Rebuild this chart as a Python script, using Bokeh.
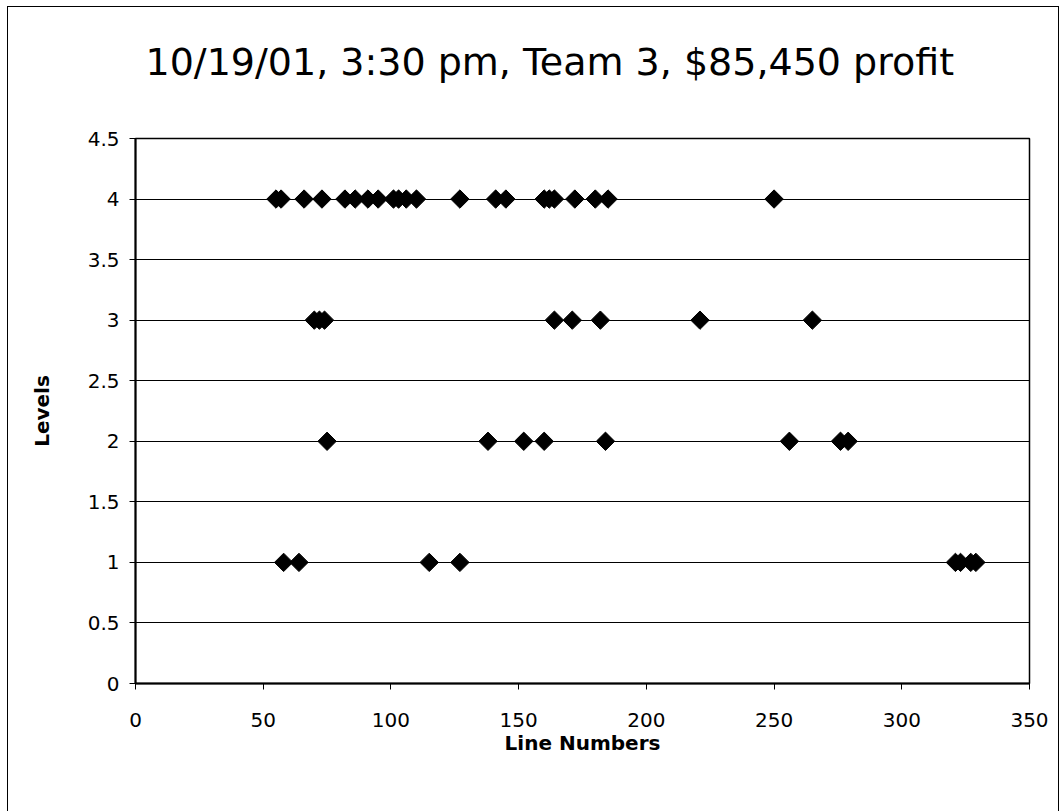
import numpy as np
from bokeh.plotting import figure
from bokeh.models import ColumnDataSource, FixedTicker, Range1d, Title
from bokeh.embed import file_html
from bokeh.resources import INLINE

title_text = "10/19/01, 3:30 pm, Team 3, $85,450 profit"
x_label = "Line Numbers"
y_label = "Levels"

level4_x = [55, 57, 66, 73, 82, 86, 91, 95, 101, 103, 106, 110, 127, 141, 145,
            160, 162, 164, 172, 180, 185, 250]
level3_x = [70, 72, 74, 164, 171, 182, 221, 265]
level2_x = [75, 138, 152, 160, 184, 256, 276, 279]
level1_x = [58, 64, 115, 127, 321, 323, 327, 329]

x_ticks = [0, 50, 100, 150, 200, 250, 300, 350]
y_ticks = [0, 0.5, 1, 1.5, 2, 2.5, 3, 3.5, 4, 4.5]
y_tick_labels = ["0", "0.5", "1", "1.5", "2", "2.5", "3", "3.5", "4", "4.5"]

xs = level4_x + level3_x + level2_x + level1_x
ys = ([4] * len(level4_x) + [3] * len(level3_x) +
      [2] * len(level2_x) + [1] * len(level1_x))
src = ColumnDataSource(dict(x=xs, y=ys))

FONT = "DejaVu Sans"

p = figure(width=1052, height=805, output_backend="svg", toolbar_location=None,
           x_range=Range1d(0, 350), y_range=Range1d(0, 4.5),
           min_border_left=127, min_border_right=31,
           min_border_top=131, min_border_bottom=129)
p.title_location = None
p.styles = {"margin-left": "7px", "margin-top": "6px",
            "border-left": "1px solid #000", "border-top": "1px solid #000",
            "border-right": "1px solid #000"}

# spacer between frame and title, then the title itself (further out)
p.add_layout(Title(text=" ", text_font_size="1px", standoff=52), "above")
p.add_layout(Title(text=title_text, align="left", offset=10, standoff=0,
                   text_font=FONT, text_font_style="normal",
                   text_font_size="38px", text_color="black"), "above")

p.background_fill_color = "white"
p.border_fill_color = "white"
p.outline_line_color = "black"
p.outline_line_width = 1.5

p.xgrid.grid_line_color = None
p.ygrid.grid_line_color = "black"
p.ygrid.grid_line_width = 1.2
p.ygrid.ticker = FixedTicker(ticks=y_ticks)

p.xaxis.ticker = FixedTicker(ticks=x_ticks)
p.yaxis.ticker = FixedTicker(ticks=y_ticks)
p.yaxis.major_label_overrides = {t: l for t, l in zip(y_ticks, y_tick_labels)}

for ax in (p.xaxis, p.yaxis):
    ax.axis_line_color = "black"
    ax.axis_line_width = 2
    ax.major_tick_line_color = "black"
    ax.major_tick_out = 6
    ax.major_tick_in = 0
    ax.minor_tick_line_color = None
    ax.major_label_text_font = FONT
    ax.major_label_text_font_size = "20px"
    ax.major_label_text_color = "black"
    ax.axis_label_text_font = FONT
    ax.axis_label_text_font_style = "bold"
    ax.axis_label_text_font_size = "20px"
    ax.axis_label_text_color = "black"

p.xaxis.axis_label = x_label
p.yaxis.axis_label = y_label
p.xaxis.major_label_standoff = 23
p.yaxis.major_label_standoff = 10
p.xaxis.axis_label_standoff = 1
p.yaxis.axis_label_standoff = 31

p.scatter("x", "y", source=src, marker="square", angle=np.pi / 4, size=13,
          fill_color="black", line_color="black")

open("out.html", "w").write(file_html(p, INLINE))
